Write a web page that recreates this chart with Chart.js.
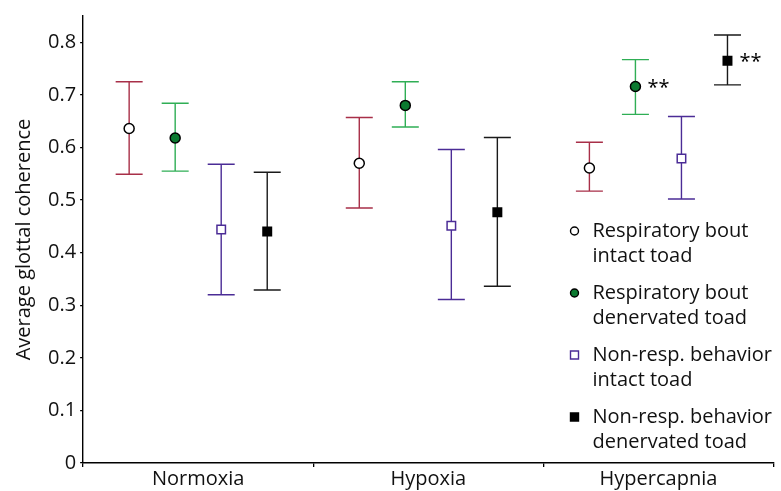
<!DOCTYPE html>
<html>
<head>
<meta charset="utf-8">
<script src="https://cdn.jsdelivr.net/npm/chart.js@4"></script>
<style>
  html, body { margin: 0; padding: 0; background: #fff; }
  #wrap { width: 781px; height: 491px; }
</style>
</head>
<body>
<div id="wrap"><canvas id="c" width="781" height="491"></canvas></div>
<script>
var categories = ["Normoxia", "Hypoxia", "Hypercapnia"];
var seriesNames = [
    ["Respiratory bout", "intact toad"],
    ["Respiratory bout", "denervated toad"],
    ["Non-resp. behavior", "intact toad"],
    ["Non-resp. behavior", "denervated toad"]
];
// mean, upper and lower whisker per condition
var respIntact = [0.636, 0.570, 0.561];
var respIntactHi = [0.725, 0.657, 0.610];
var respIntactLo = [0.549, 0.485, 0.517];
var respDenerv = [0.618, 0.680, 0.716];
var respDenervHi = [0.684, 0.725, 0.767];
var respDenervLo = [0.555, 0.639, 0.663];
var nonIntact = [0.444, 0.451, 0.579];
var nonIntactHi = [0.568, 0.596, 0.659];
var nonIntactLo = [0.320, 0.311, 0.502];
var nonDenerv = [0.440, 0.477, 0.765];
var nonDenervHi = [0.553, 0.619, 0.814];
var nonDenervLo = [0.329, 0.336, 0.719];
// significance marks
var respDenervSig = ["", "", "**"];
var nonDenervSig = ["", "", "**"];
var yTicks = [0, 0.1, 0.2, 0.3, 0.4, 0.5, 0.6, 0.7, 0.8];

var FONT = "'Open Sans', 'Noto Sans', sans-serif";
var slots = [0.2, 0.4, 0.6, 0.8];

function pts(vals, s) {
    var out = [];
    for (var i = 0; i < vals.length; i++) {
        out.push({ x: i + slots[s], y: vals[i] });
    }
    return out;
}

var sets = [
    { mean: respIntact, hi: respIntactHi, lo: respIntactLo, sig: null,
      bar: "#a82f48", style: "circle", fill: "#ffffff", edge: "#000000" },
    { mean: respDenerv, hi: respDenervHi, lo: respDenervLo, sig: respDenervSig,
      bar: "#2fae55", style: "circle", fill: "#0b7a30", edge: "#000000" },
    { mean: nonIntact, hi: nonIntactHi, lo: nonIntactLo, sig: null,
      bar: "#4b2c96", style: "rect", fill: "#ffffff", edge: "#4b2c96" },
    { mean: nonDenerv, hi: nonDenervHi, lo: nonDenervLo, sig: nonDenervSig,
      bar: "#1a1a1a", style: "rect", fill: "#000000", edge: "#000000" }
];

var datasets = sets.map(function (s, k) {
    return {
        label: seriesNames[k].join(" "),
        data: pts(s.mean, k),
        xAxisID: "xv",
        pointStyle: s.style,
        pointRadius: s.style == "rect" ? 6 : 5,
        pointBackgroundColor: s.fill,
        pointBorderColor: s.edge,
        pointBorderWidth: 1.5,
        showLine: false
    };
});

var errorBars = {
    id: "errorBars",
    beforeDatasetsDraw: function (chart) {
        var ctx = chart.ctx;
        var y = chart.scales.y;
        ctx.save();
        sets.forEach(function (s, k) {
            var meta = chart.getDatasetMeta(k);
            meta.data.forEach(function (p, i) {
                var top = y.getPixelForValue(s.hi[i]);
                var bot = y.getPixelForValue(s.lo[i]);
                ctx.strokeStyle = s.bar;
                ctx.lineWidth = 1.4;
                ctx.beginPath();
                ctx.moveTo(p.x, top);
                ctx.lineTo(p.x, bot);
                ctx.moveTo(p.x - 13.5, top);
                ctx.lineTo(p.x + 13.5, top);
                ctx.moveTo(p.x - 13.5, bot);
                ctx.lineTo(p.x + 13.5, bot);
                ctx.stroke();
            });
        });
        ctx.restore();
    },
    afterDatasetsDraw: function (chart) {
        var ctx = chart.ctx;
        ctx.save();
        ctx.fillStyle = "#000";
        ctx.font = "20px " + FONT;
        ctx.textBaseline = "middle";
        sets.forEach(function (s, k) {
            if (!s.sig) return;
            var meta = chart.getDatasetMeta(k);
            meta.data.forEach(function (p, i) {
                if (s.sig[i]) ctx.fillText(s.sig[i], p.x + 12, p.y + 2);
            });
        });
        ctx.restore();
    },
    afterDraw: function (chart) {
        var ctx = chart.ctx;
        var area = chart.chartArea;
        var mx = area.right - 199, tx = area.right - 181;
        var y0 = area.top + 215;
        ctx.save();
        ctx.font = "20px " + FONT;
        ctx.textBaseline = "middle";
        sets.forEach(function (s, k) {
            var yy = y0 + k * 62;
            ctx.lineWidth = 1.4;
            ctx.fillStyle = s.fill;
            ctx.strokeStyle = s.edge;
            ctx.beginPath();
            if (s.style == "circle") {
                ctx.arc(mx, yy, 4, 0, Math.PI * 2);
            } else {
                ctx.rect(mx - 4, yy - 4, 8, 8);
            }
            ctx.fill();
            ctx.stroke();
            ctx.fillStyle = "#111";
            ctx.fillText(seriesNames[k][0], tx, yy);
            ctx.fillText(seriesNames[k][1], tx, yy + 25.5);
        });
        ctx.restore();
    }
};

new Chart(document.getElementById("c").getContext("2d"), {
    type: "scatter",
    data: { datasets: datasets },
    options: {
        responsive: false,
        animation: false,
        layout: { padding: { top: 13, right: 3, bottom: 0, left: 12 } },
        plugins: {
            legend: { display: false },
            tooltip: { enabled: false }
        },
        scales: {
            x: {
                type: "category",
                labels: categories,
                offset: true,
                grid: { offset: true, drawOnChartArea: false, tickLength: 4, color: "#000", lineWidth: 1.3 },
                border: { color: "#000", width: 1.4 },
                ticks: { color: "#111", font: { family: FONT, size: 20 }, padding: 0 }
            },
            xv: {
                type: "linear",
                min: 0,
                max: 3,
                display: false
            },
            y: {
                min: 0,
                max: 0.85,
                afterBuildTicks: function (axis) {
                    axis.ticks = yTicks.map(function (v) { return { value: v }; });
                },
                grid: { drawOnChartArea: false, tickLength: 3, color: "#000", lineWidth: 1.3 },
                border: { color: "#000", width: 1.4 },
                ticks: {
                    color: "#111",
                    font: { family: FONT, size: 20 },
                    padding: 4,
                    callback: function (v) { return String(Math.round(v * 10) / 10); }
                },
                title: {
                    display: true,
                    text: "Average glottal coherence",
                    color: "#111",
                    font: { family: FONT, size: 20 },
                    padding: { top: 0, bottom: 8 }
                }
            }
        }
    },
    plugins: [errorBars]
});
</script>
</body>
</html>
